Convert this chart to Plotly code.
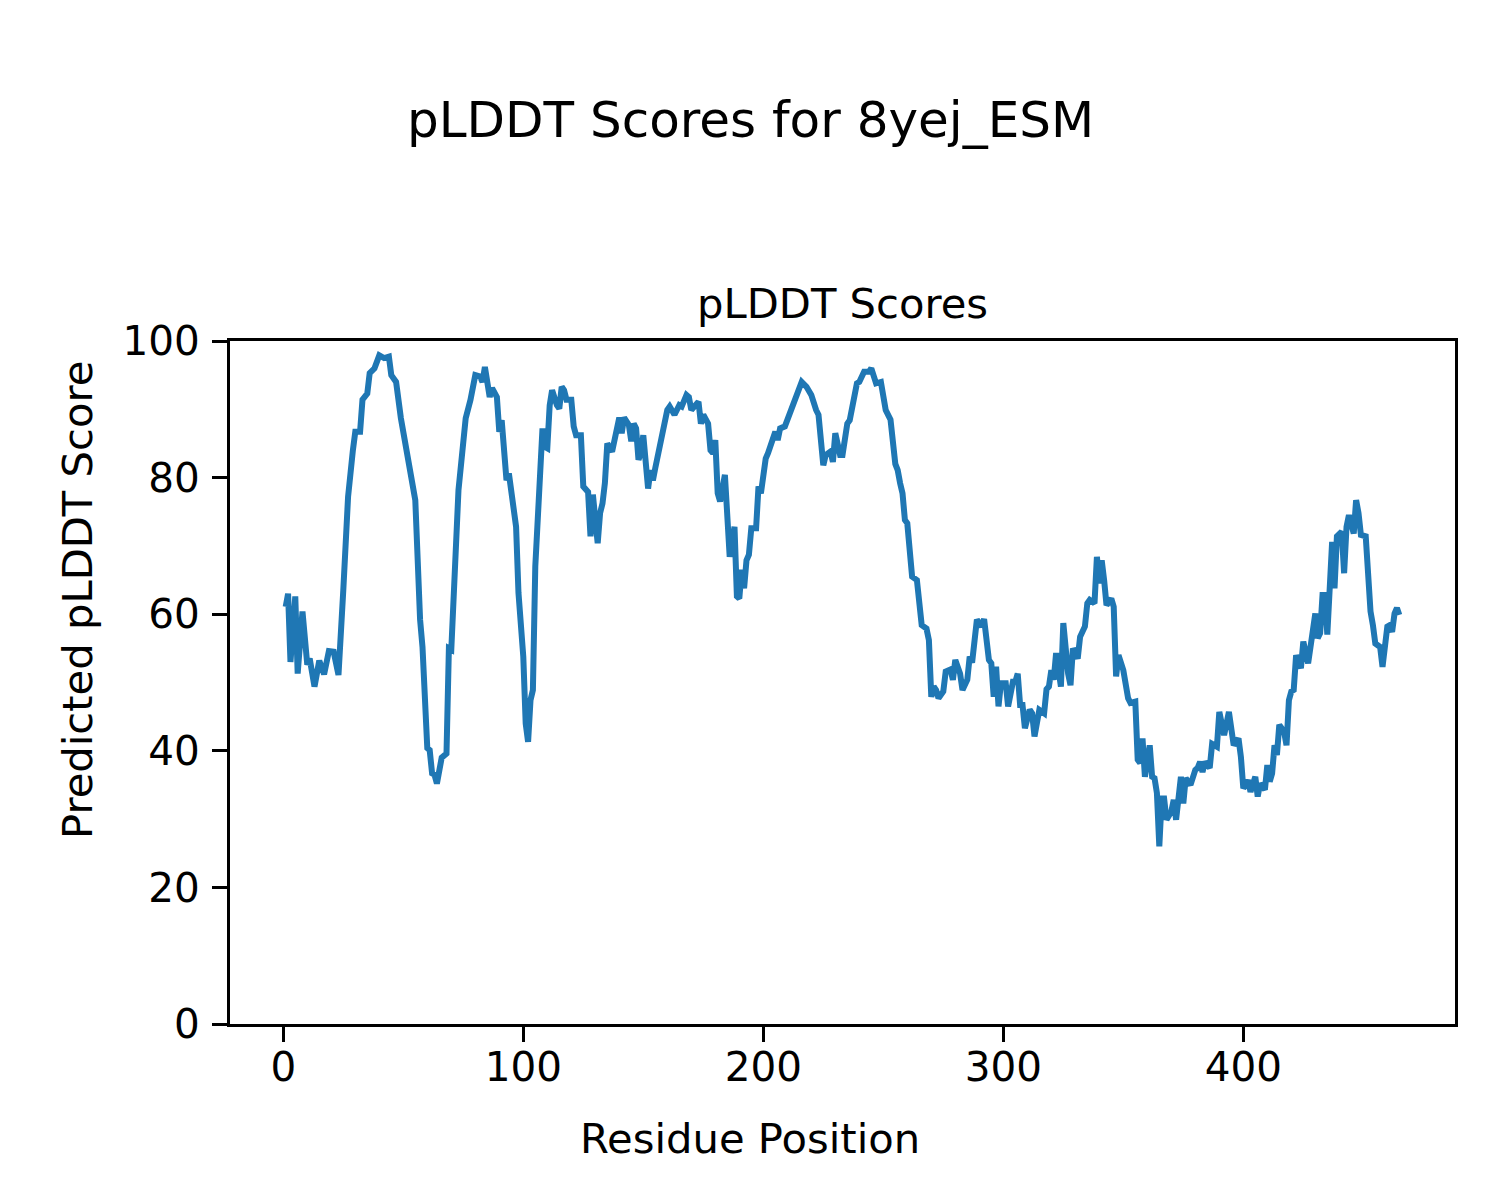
import plotly.graph_objects as go

residues = [1, 2, 3, 5, 6, 8, 10, 11, 13, 15, 17, 19, 21, 23, 25, 27, 29, 30, 32, 33,
            35, 36, 38, 40, 42, 44, 45, 47, 49, 51, 53, 55, 57, 58, 60, 61, 62, 63, 64, 66,
            68, 69, 70, 71, 73, 76, 78, 80, 82, 83, 84, 86, 87, 89, 90, 91, 93, 94, 97, 98,
            100, 101, 102, 103, 104, 105, 107, 108, 109, 110, 111, 112, 114, 115, 116, 117, 118, 120, 121, 122,
            124, 125, 127, 128, 129, 131, 132, 133, 134, 135, 137, 139, 140, 141, 142, 144, 145, 146, 147, 148,
            149, 150, 152, 153, 154, 155, 157, 158, 159, 160, 161, 163, 165, 166, 168, 169, 170, 173, 174, 175,
            177, 178, 179, 180, 181, 182, 184, 186, 188, 189, 190, 191, 192, 193, 194, 195, 197, 198, 199, 201,
            202, 204, 205, 206, 207, 209, 211, 213, 214, 216, 218, 219, 220, 222, 223, 225, 226, 228, 229, 230,
            232, 233, 235, 236, 237, 239, 240, 242, 244, 245, 247, 248, 249, 251, 253, 255, 256, 257, 258, 259,
            260, 262, 264, 266, 268, 269, 270, 271, 272, 273, 275, 276, 278, 279, 280, 282, 283, 285, 286, 287,
            289, 291, 292, 294, 295, 296, 297, 298, 299, 301, 302, 304, 305, 306, 307, 308, 309, 311, 312, 313,
            315, 317, 318, 319, 320, 321, 322, 324, 325, 327, 328, 329, 331, 332, 334, 335, 336, 338, 339, 340,
            341, 342, 343, 345, 346, 347, 348, 350, 352, 353, 355, 356, 357, 358, 359, 361, 362, 363, 364, 365,
            366, 367, 368, 370, 371, 372, 374, 375, 376, 378, 380, 381, 382, 383, 384, 386, 387, 389, 390, 392,
            394, 396, 398, 399, 400, 402, 403, 405, 406, 407, 409, 410, 411, 412, 413, 414, 415, 417, 418, 419,
            420, 421, 422, 424, 425, 427, 430, 431, 432, 433, 434, 435, 436, 437, 438, 439, 441, 442, 443, 444,
            446, 447, 448, 449, 451, 453, 454, 455, 457, 458, 460, 461, 462, 463, 464, 465]

plddt = [61.1, 63.0, 53.0, 62.6, 51.3, 60.4, 52.6, 53.5, 49.4, 53.2, 51.2, 54.6, 54.5, 51.1, 63.5, 77.2, 84.0, 86.7, 86.7, 91.4,
         92.3, 95.3, 96.0, 97.9, 97.5, 97.7, 95.0, 94.0, 88.7, 84.5, 79.6, 76.7, 59.2, 55.2, 40.4, 40.1, 36.7, 36.5, 35.2, 39.0,
         39.6, 55.0, 54.8, 62.1, 78.2, 88.7, 91.4, 95.0, 94.8, 94.0, 96.2, 91.8, 93.1, 91.8, 86.7, 88.4, 79.6, 80.6, 72.8, 63.1,
         53.8, 44.0, 41.3, 47.4, 48.9, 67.0, 79.2, 87.2, 84.5, 84.3, 90.6, 92.8, 90.6, 90.1, 93.3, 92.8, 91.4, 91.4, 87.5, 86.2,
         86.2, 78.7, 77.9, 71.4, 77.5, 70.4, 74.8, 76.2, 79.2, 85.0, 83.8, 87.5, 88.8, 86.5, 88.8, 87.7, 85.3, 87.9, 87.2, 82.6,
         83.6, 86.2, 78.4, 81.1, 79.6, 81.4, 84.8, 85.5, 87.2, 89.9, 90.4, 89.2, 90.6, 90.4, 92.1, 91.8, 89.9, 91.1, 87.9, 89.2,
         87.9, 84.0, 83.6, 85.5, 77.7, 76.5, 80.4, 68.4, 72.8, 62.6, 62.3, 66.5, 63.8, 67.9, 68.7, 72.6, 72.6, 78.7, 77.7, 82.8,
         83.6, 86.2, 86.7, 85.5, 87.2, 87.5, 89.2, 91.4, 91.8, 94.0, 93.3, 92.8, 92.1, 89.9, 89.2, 81.8, 83.3, 83.8, 82.3, 86.5,
         83.3, 83.3, 87.9, 88.4, 90.4, 93.8, 94.0, 95.5, 95.5, 96.0, 93.8, 94.0, 94.0, 89.9, 88.5, 82.0, 81.1, 79.2, 77.7, 73.8,
         73.3, 65.5, 65.0, 58.4, 57.9, 56.2, 47.9, 49.4, 48.9, 47.7, 48.7, 51.6, 51.9, 50.4, 53.3, 51.3, 48.9, 50.4, 53.8, 52.9,
         59.2, 58.2, 59.3, 53.3, 52.8, 47.9, 52.3, 46.5, 49.9, 49.9, 46.5, 50.1, 50.1, 51.3, 46.7, 46.7, 43.3, 46.0, 45.5, 42.1,
         46.0, 45.5, 49.0, 49.4, 51.8, 50.4, 54.3, 49.4, 58.7, 51.3, 49.6, 55.0, 53.5, 56.7, 58.2, 61.6, 62.1, 61.6, 68.4, 64.5,
         67.9, 65.0, 61.3, 62.3, 61.1, 50.9, 54.0, 51.8, 47.7, 47.0, 47.2, 38.7, 38.2, 41.8, 36.2, 40.8, 36.2, 36.0, 33.8, 26.0,
         33.0, 33.0, 29.9, 31.1, 32.8, 29.9, 36.2, 32.3, 36.0, 35.0, 37.2, 37.5, 38.4, 36.9, 38.4, 37.5, 41.0, 40.6, 45.7, 42.3,
         45.7, 40.8, 41.8, 39.1, 34.5, 35.7, 34.0, 36.2, 33.3, 35.2, 34.3, 37.9, 35.5, 36.7, 40.8, 39.4, 43.8, 42.8, 40.8, 47.4,
         48.7, 48.9, 54.0, 52.1, 56.0, 52.8, 60.1, 56.5, 57.2, 62.8, 62.8, 57.0, 62.6, 70.6, 63.8, 71.4, 72.1, 66.0, 72.8, 74.5,
         71.8, 76.7, 74.8, 71.6, 71.4, 60.4, 58.4, 55.7, 55.2, 52.3, 58.2, 58.4, 57.4, 60.1, 60.9, 59.9]

y_ticks = [0, 20, 40, 60, 80, 100]
x_ticks = [0, 100, 200, 300, 400]

FONT = "DejaVu Sans, Verdana, sans-serif"
L, R, T, B = 230, 1455, 341, 1024
PW, PH = R - L, B - T

def px_x(px):
    return (px - L) / PW

def px_y(py):
    return (B - py) / PH

fig = go.Figure()
fig.add_trace(go.Scatter(
    x=residues, y=plddt, mode="lines",
    line=dict(color="#1f77b4", width=6.0),
    showlegend=False, hoverinfo="skip",
))

axis_common = dict(
    showline=True, linecolor="black", linewidth=3.3, mirror=True,
    ticks="outside", ticklen=15, tickwidth=3.3, tickcolor="black",
    showgrid=False, zeroline=False,
    tickfont=dict(family=FONT, size=40.5, color="black"),
)

fig.update_layout(
    width=1500, height=1200,
    margin=dict(l=L, r=1500 - R, t=T, b=1200 - B, autoexpand=False),
    paper_bgcolor="white", plot_bgcolor="white",
    xaxis=dict(range=[-22.2, 488.2], tickvals=x_ticks, ticktext=[str(v) for v in x_ticks],
               ticklabelstandoff=-10, **axis_common),
    yaxis=dict(range=[0, 100], tickvals=y_ticks, ticktext=[str(v) for v in y_ticks],
               ticklabelstandoff=4, **axis_common),
    font=dict(family=FONT, color="black"),
    annotations=[
        dict(text="pLDDT Scores for 8yej_ESM", x=px_x(750), y=px_y(120), xref="paper", yref="paper",
             xanchor="center", yanchor="middle", showarrow=False,
             font=dict(family=FONT, size=50, color="black")),
        dict(text="pLDDT Scores", x=0.5, y=px_y(303), xref="paper", yref="paper",
             xanchor="center", yanchor="middle", showarrow=False,
             font=dict(family=FONT, size=41.7, color="black")),
        dict(text="Residue Position", x=px_x(750), y=px_y(1138), xref="paper", yref="paper",
             xanchor="center", yanchor="middle", showarrow=False,
             font=dict(family=FONT, size=41.7, color="black")),
        dict(text="Predicted pLDDT Score", x=px_x(77), y=px_y(600), xref="paper", yref="paper",
             xanchor="center", yanchor="middle", showarrow=False, textangle=-90,
             font=dict(family=FONT, size=41.7, color="black")),
    ],
)

fig.write_html("out.html", config={"displayModeBar": False},
               post_script="document.body.style.margin='0';document.body.style.padding='0';")
